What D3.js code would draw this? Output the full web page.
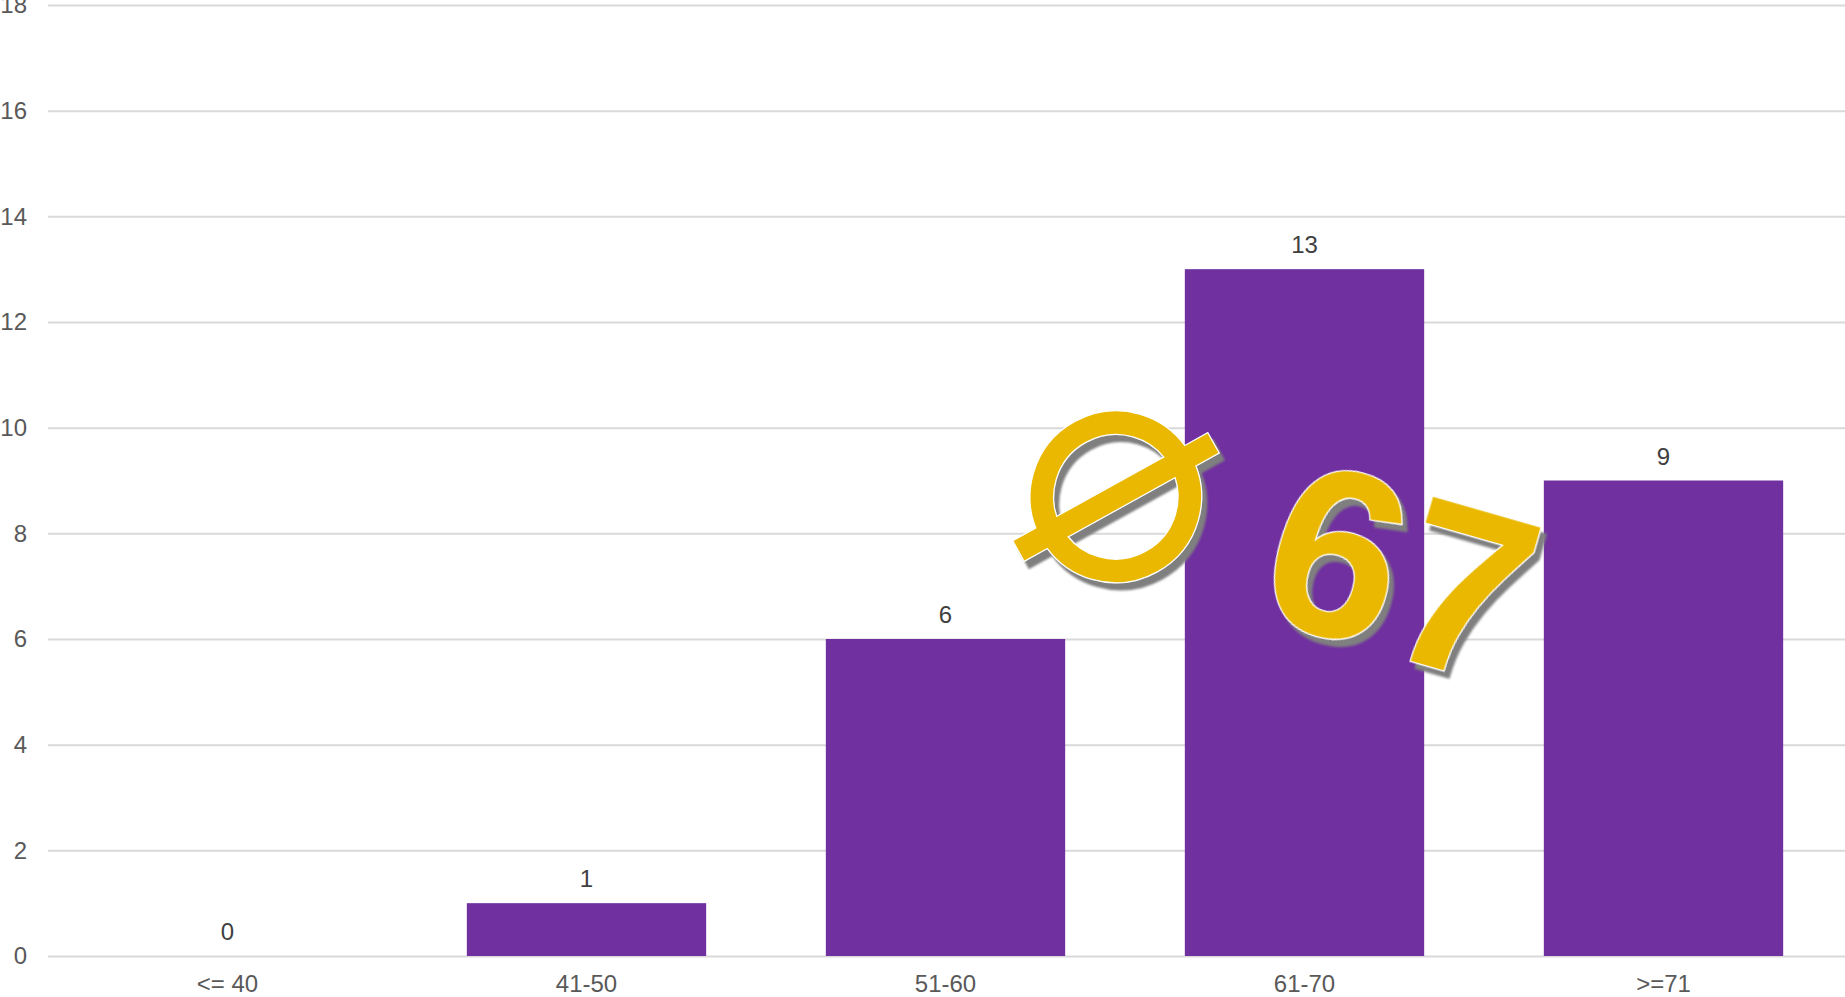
<!DOCTYPE html>
<html>
<head>
<meta charset="utf-8">
<script src="https://cdn.jsdelivr.net/npm/d3@7"></script>
<style>
  html, body { margin: 0; padding: 0; background: #fff; overflow: hidden; }
  svg { display: block; }
  text { font-family: "Liberation Sans", Arial, sans-serif; }
</style>
</head>
<body>
<svg id="chart" width="1845" height="997"></svg>
<script>
// DATA
const categories = ["<= 40", "41-50", "51-60", "61-70", ">=71"];
const counts = [0, 1, 6, 13, 9];
const yTicks = [0, 2, 4, 6, 8, 10, 12, 14, 16, 18];
const stampSymbol = "⌀";
const stampNumber = "67";

// CANVAS SETUP
const canvas = d3.select("#chart");
const margin = { top: 5, right: 2, bottom: 41, left: 48 },
  width = canvas.attr("width") - margin.left - margin.right,
  height = canvas.attr("height") - margin.top - margin.bottom;

const g = canvas
  .append("g")
  .attr("transform", `translate(${margin.left},${margin.top})`);

const xScale = d3
  .scaleBand()
  .domain(categories)
  .range([0, width])
  .paddingInner(1 / 3)
  .paddingOuter(1 / 6);

const yScale = d3.scaleLinear().domain([0, 18]).range([height, 0]);

// AXES
const gy = g
  .append("g")
  .call(d3.axisLeft(yScale).tickValues(yTicks).tickSize(-width - margin.right).tickPadding(21))
  .call((s) => s.select(".domain").remove());
gy.selectAll("line").attr("stroke", "#d9d9d9").attr("stroke-width", 2);
gy.selectAll("text")
  .attr("fill", "#595959")
  .style("font-size", "24px")
  .style("font-family", '"Liberation Sans", Arial, sans-serif');

const gx = g
  .append("g")
  .attr("transform", `translate(0,${height})`)
  .call(d3.axisBottom(xScale).tickSize(0).tickPadding(19))
  .call((s) => s.select(".domain").remove());
gx.selectAll("text")
  .attr("fill", "#595959")
  .style("font-size", "24px")
  .style("font-family", '"Liberation Sans", Arial, sans-serif');

// BARS
const rows = categories.map((c, i) => ({ category: c, value: counts[i] }));

g.selectAll("rect.bar")
  .data(rows)
  .join("rect")
  .attr("class", "bar")
  .attr("x", (d) => xScale(d.category))
  .attr("y", (d) => yScale(d.value))
  .attr("width", xScale.bandwidth())
  .attr("height", (d) => height - yScale(d.value))
  .attr("fill", "#7030a0");

g.selectAll("text.value")
  .data(rows)
  .join("text")
  .attr("class", "value")
  .attr("x", (d) => xScale(d.category) + xScale.bandwidth() / 2)
  .attr("y", (d) => yScale(d.value) - 16)
  .attr("text-anchor", "middle")
  .attr("fill", "#404040")
  .style("font-size", "24px")
  .text((d) => d.value);

// STAMP OVER THE CHART
const defs = canvas.append("defs");
defs
  .append("filter")
  .attr("id", "stampShadow")
  .attr("x", "-15%")
  .attr("y", "-15%")
  .attr("width", "130%")
  .attr("height", "130%")
  .append("feDropShadow")
  .attr("dx", 5)
  .attr("dy", 7)
  .attr("stdDeviation", 1)
  .attr("flood-color", "#7f7f7f")
  .attr("flood-opacity", 1);

const stamp = canvas
  .append("g")
  .attr("filter", "url(#stampShadow)")
  .attr("fill", "#eab800")
  .attr("stroke", "#fff")
  .attr("stroke-width", 2.5)
  .attr("paint-order", "stroke");

stamp
  .append("text")
  .attr("transform", "translate(1126,462) rotate(16)")
  .attr("text-anchor", "middle")
  .attr("dy", "0.36em")
  .style("font-family", '"DejaVu Sans ExtraLight", "DejaVu Sans", sans-serif')
  .style("font-weight", 200)
  .style("font-size", "325px")
  .text(stampSymbol);

stamp
  .append("text")
  .attr("transform", "translate(1251,615) rotate(16)")
  .style("font-size", "238px")
  .style("font-weight", "bold")
  .text(stampNumber);
</script>
</body>
</html>
